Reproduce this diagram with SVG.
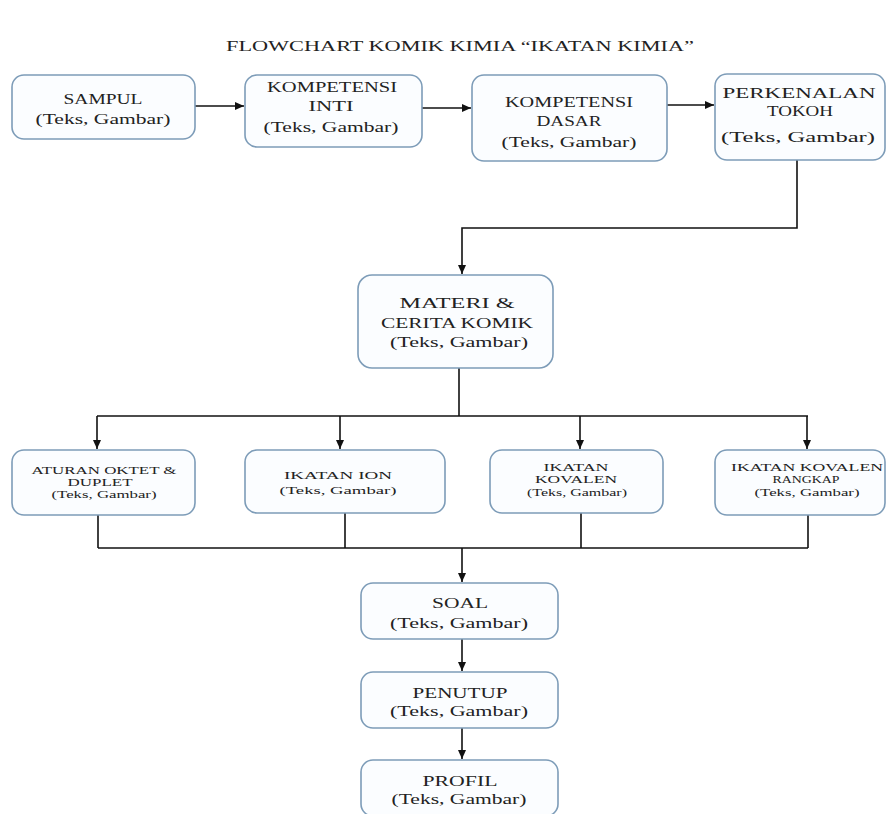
<svg xmlns="http://www.w3.org/2000/svg" width="893" height="814" viewBox="0 0 893 814">
<style>
.box{fill:#fbfdff;stroke:#7d9cb8;stroke-width:1.6}
.t{font-family:'Liberation Serif','DejaVu Serif',serif;font-size:15px;fill:#222;text-anchor:middle}
.s{font-family:'Liberation Serif','DejaVu Serif',serif;font-size:11px;fill:#222;text-anchor:middle}
.c{fill:none;stroke:#111;stroke-width:1.6}
</style>
<defs>
<marker id="ah" markerWidth="10" markerHeight="10" refX="9" refY="5" orient="auto" markerUnits="userSpaceOnUse">
<path d="M0,1 L9,5 L0,9 Z" fill="#111"/>
</marker>
</defs>
<rect width="893" height="814" fill="#ffffff"/>
<text class="t" font-family="Liberation Serif, serif" x="460" y="51" textLength="468" lengthAdjust="spacingAndGlyphs">FLOWCHART KOMIK KIMIA “IKATAN KIMIA”</text>

<g id="connectors">
<line class="c" x1="195" y1="106" x2="244" y2="106" marker-end="url(#ah)"/>
<line class="c" x1="422" y1="108" x2="471" y2="108" marker-end="url(#ah)"/>
<line class="c" x1="667" y1="105" x2="714" y2="105" marker-end="url(#ah)"/>
<polyline class="c" points="797,160 797,228 462,228 462,274" marker-end="url(#ah)"/>
<line class="c" x1="459" y1="368" x2="459" y2="416"/>
<line class="c" x1="97" y1="416" x2="808" y2="416"/>
<line class="c" x1="97" y1="416" x2="97" y2="449" marker-end="url(#ah)"/>
<line class="c" x1="340" y1="416" x2="340" y2="449" marker-end="url(#ah)"/>
<line class="c" x1="580" y1="416" x2="580" y2="449" marker-end="url(#ah)"/>
<line class="c" x1="807" y1="416" x2="807" y2="449" marker-end="url(#ah)"/>
<line class="c" x1="98" y1="515" x2="98" y2="548"/>
<line class="c" x1="345" y1="513" x2="345" y2="548"/>
<line class="c" x1="581" y1="513" x2="581" y2="548"/>
<line class="c" x1="808" y1="515" x2="808" y2="548"/>
<line class="c" x1="98" y1="548" x2="808" y2="548"/>
<line class="c" x1="462" y1="548" x2="462" y2="582" marker-end="url(#ah)"/>
<line class="c" x1="462" y1="639" x2="462" y2="671" marker-end="url(#ah)"/>
<line class="c" x1="462" y1="728" x2="462" y2="759" marker-end="url(#ah)"/>
</g>

<g id="sampul">
<rect class="box" x="12" y="75" width="183" height="64" rx="12"/>
<text class="t" x="103" y="104" textLength="79" lengthAdjust="spacingAndGlyphs">SAMPUL</text>
<text class="t" x="103" y="124" textLength="135" lengthAdjust="spacingAndGlyphs">(Teks, Gambar)</text>
</g>
<g id="kompetensi-inti">
<rect class="box" x="245" y="75" width="177" height="72" rx="12"/>
<text class="t" x="332" y="92" textLength="130" lengthAdjust="spacingAndGlyphs">KOMPETENSI</text>
<text class="t" x="331" y="111" textLength="45" lengthAdjust="spacingAndGlyphs">INTI</text>
<text class="t" x="331" y="132" textLength="135" lengthAdjust="spacingAndGlyphs">(Teks, Gambar)</text>
</g>
<g id="kompetensi-dasar">
<rect class="box" x="472" y="75" width="195" height="86" rx="12"/>
<text class="t" x="569" y="107" textLength="128" lengthAdjust="spacingAndGlyphs">KOMPETENSI</text>
<text class="t" x="569" y="126" textLength="65" lengthAdjust="spacingAndGlyphs">DASAR</text>
<text class="t" x="569" y="147" textLength="135" lengthAdjust="spacingAndGlyphs">(Teks, Gambar)</text>
</g>
<g id="perkenalan-tokoh">
<rect class="box" x="715" y="74" width="170" height="86" rx="12"/>
<text class="t" x="799" y="98" textLength="153" lengthAdjust="spacingAndGlyphs">PERKENALAN</text>
<text class="t" x="800" y="116" textLength="66" lengthAdjust="spacingAndGlyphs">TOKOH</text>
<text class="t" x="798" y="142" textLength="154" lengthAdjust="spacingAndGlyphs">(Teks, Gambar)</text>
</g>
<g id="materi">
<rect class="box" x="358" y="275" width="195" height="93" rx="14"/>
<text class="t" x="457" y="308" textLength="115" lengthAdjust="spacingAndGlyphs">MATERI &amp;</text>
<text class="t" x="457" y="328" textLength="152" lengthAdjust="spacingAndGlyphs">CERITA KOMIK</text>
<text class="t" x="459" y="347" textLength="138" lengthAdjust="spacingAndGlyphs">(Teks, Gambar)</text>
</g>
<g id="aturan-oktet">
<rect class="box" x="12" y="450" width="183" height="65" rx="12"/>
<text class="s" x="104" y="474" textLength="145" lengthAdjust="spacingAndGlyphs">ATURAN OKTET &amp;</text>
<text class="s" x="100" y="486" textLength="65" lengthAdjust="spacingAndGlyphs">DUPLET</text>
<text class="s" x="104" y="498" textLength="105" lengthAdjust="spacingAndGlyphs">(Teks, Gambar)</text>
</g>
<g id="ikatan-ion">
<rect class="box" x="245" y="450" width="200" height="63" rx="12"/>
<text class="s" x="338" y="479" textLength="108" lengthAdjust="spacingAndGlyphs">IKATAN ION</text>
<text class="s" x="338" y="494" textLength="117" lengthAdjust="spacingAndGlyphs">(Teks, Gambar)</text>
</g>
<g id="ikatan-kovalen">
<rect class="box" x="490" y="450" width="173" height="63" rx="12"/>
<text class="s" x="576" y="471" textLength="65" lengthAdjust="spacingAndGlyphs">IKATAN</text>
<text class="s" x="576" y="483" textLength="82" lengthAdjust="spacingAndGlyphs">KOVALEN</text>
<text class="s" x="577" y="496" textLength="100" lengthAdjust="spacingAndGlyphs">(Teks, Gambar)</text>
</g>
<g id="ikatan-kovalen-rangkap">
<rect class="box" x="715" y="450" width="170" height="65" rx="12"/>
<text class="s" x="807" y="471" textLength="152" lengthAdjust="spacingAndGlyphs">IKATAN KOVALEN</text>
<text class="s" x="806" y="483" textLength="67" lengthAdjust="spacingAndGlyphs">RANGKAP</text>
<text class="s" x="807" y="496" textLength="105" lengthAdjust="spacingAndGlyphs">(Teks, Gambar)</text>
</g>
<g id="soal">
<rect class="box" x="361" y="583" width="197" height="56" rx="12"/>
<text class="t" x="460" y="608" textLength="56" lengthAdjust="spacingAndGlyphs">SOAL</text>
<text class="t" x="459" y="628" textLength="138" lengthAdjust="spacingAndGlyphs">(Teks, Gambar)</text>
</g>
<g id="penutup">
<rect class="box" x="361" y="672" width="197" height="56" rx="12"/>
<text class="t" x="460" y="698" textLength="95" lengthAdjust="spacingAndGlyphs">PENUTUP</text>
<text class="t" x="459" y="716" textLength="138" lengthAdjust="spacingAndGlyphs">(Teks, Gambar)</text>
</g>
<g id="profil">
<rect class="box" x="361" y="760" width="197" height="56" rx="12"/>
<text class="t" x="460" y="786" textLength="75" lengthAdjust="spacingAndGlyphs">PROFIL</text>
<text class="t" x="459" y="804" textLength="135" lengthAdjust="spacingAndGlyphs">(Teks, Gambar)</text>
</g>
</svg>
